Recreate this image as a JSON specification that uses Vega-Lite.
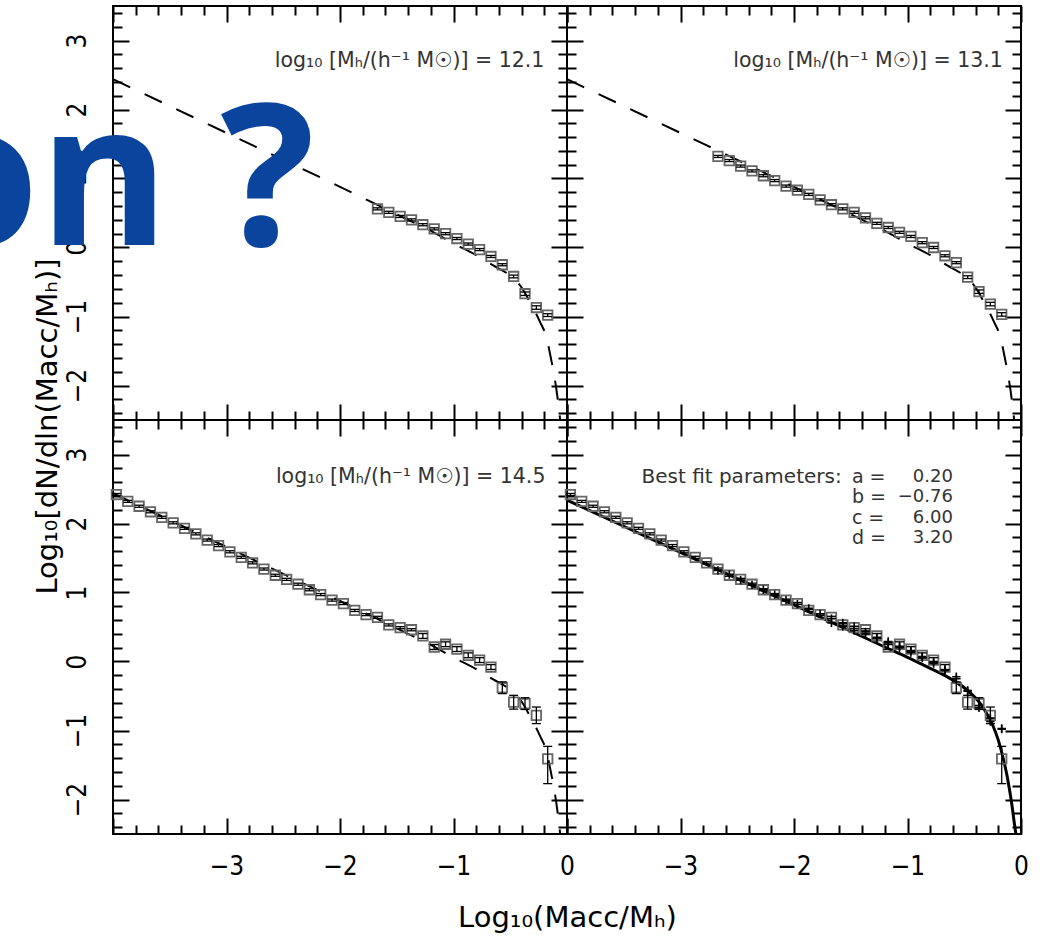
{
  "$schema": "https://vega.github.io/schema/vega-lite/v6.json",
  "background": "white",
  "padding": {"left": -85, "top": 4, "right": 0, "bottom": 0},
  "config": {
    "view": {"stroke": "black", "strokeWidth": 2},
    "axis": {"labelFont": "Liberation Sans Narrow, DejaVu Sans Condensed, sans-serif", "titleFont": "DejaVu Sans", "labelColor": "black", "titleColor": "black", "titleFontWeight": "normal", "grid": false, "domain": false},
    "concat": {"spacing": 0}
  },
  "datasets": {
    "dashed": [
      {"x": -4, "y": 2.44}, {"x": -3.5, "y": 2.05}, {"x": -3, "y": 1.66}, {"x": -2.5, "y": 1.27}, {"x": -2, "y": 0.88},
      {"x": -1.5, "y": 0.48}, {"x": -1.2, "y": 0.24}, {"x": -1, "y": 0.06}, {"x": -0.8, "y": -0.11}, {"x": -0.65, "y": -0.26},
      {"x": -0.5, "y": -0.41}, {"x": -0.4, "y": -0.58}, {"x": -0.33, "y": -0.78}, {"x": -0.24, "y": -1.07}, {"x": -0.18, "y": -1.31},
      {"x": -0.14, "y": -1.62}, {"x": -0.11, "y": -1.88}, {"x": -0.08, "y": -2.22}, {"x": -0.06, "y": -2.5}
    ],
    "solid": [
      {"x": -4, "y": 2.34}, {"x": -3.5, "y": 1.96}, {"x": -3, "y": 1.58}, {"x": -2.5, "y": 1.2}, {"x": -2, "y": 0.82},
      {"x": -1.5, "y": 0.44}, {"x": -1.2, "y": 0.21}, {"x": -1, "y": 0.06}, {"x": -0.8, "y": -0.1}, {"x": -0.7, "y": -0.18},
      {"x": -0.6, "y": -0.27}, {"x": -0.5, "y": -0.38}, {"x": -0.4, "y": -0.53}, {"x": -0.35, "y": -0.63}, {"x": -0.3, "y": -0.76},
      {"x": -0.25, "y": -0.92}, {"x": -0.2, "y": -1.14}, {"x": -0.15, "y": -1.45}, {"x": -0.12, "y": -1.68}, {"x": -0.1, "y": -1.87},
      {"x": -0.08, "y": -2.08}, {"x": -0.06, "y": -2.33}, {"x": -0.045, "y": -2.5}
    ],
    "d121": [
      {"x": -1.67, "y": 0.56, "lo": 0.545, "hi": 0.575}, {"x": -1.57, "y": 0.51, "lo": 0.495, "hi": 0.525},
      {"x": -1.47, "y": 0.45, "lo": 0.435, "hi": 0.465}, {"x": -1.37, "y": 0.4, "lo": 0.385, "hi": 0.415},
      {"x": -1.27, "y": 0.33, "lo": 0.315, "hi": 0.345}, {"x": -1.17, "y": 0.27, "lo": 0.255, "hi": 0.285},
      {"x": -1.07, "y": 0.2, "lo": 0.185, "hi": 0.215}, {"x": -0.97, "y": 0.13, "lo": 0.115, "hi": 0.145},
      {"x": -0.87, "y": 0.05, "lo": 0.035, "hi": 0.065}, {"x": -0.77, "y": -0.03, "lo": -0.045, "hi": -0.015},
      {"x": -0.67, "y": -0.13, "lo": -0.145, "hi": -0.115}, {"x": -0.57, "y": -0.25, "lo": -0.265, "hi": -0.235},
      {"x": -0.47, "y": -0.42, "lo": -0.44, "hi": -0.4}, {"x": -0.37, "y": -0.67, "lo": -0.695, "hi": -0.645},
      {"x": -0.27, "y": -0.87, "lo": -0.895, "hi": -0.845}, {"x": -0.17, "y": -0.98, "lo": -1.0, "hi": -0.96}
    ],
    "d131": [
      {"x": -2.67, "y": 1.32, "lo": 1.305, "hi": 1.335}, {"x": -2.57, "y": 1.26, "lo": 1.245, "hi": 1.275},
      {"x": -2.47, "y": 1.18, "lo": 1.165, "hi": 1.195}, {"x": -2.37, "y": 1.11, "lo": 1.095, "hi": 1.125},
      {"x": -2.27, "y": 1.04, "lo": 1.025, "hi": 1.055}, {"x": -2.17, "y": 0.97, "lo": 0.955, "hi": 0.985},
      {"x": -2.07, "y": 0.89, "lo": 0.875, "hi": 0.905}, {"x": -1.97, "y": 0.83, "lo": 0.815, "hi": 0.845},
      {"x": -1.87, "y": 0.77, "lo": 0.755, "hi": 0.785}, {"x": -1.77, "y": 0.69, "lo": 0.675, "hi": 0.705},
      {"x": -1.67, "y": 0.62, "lo": 0.605, "hi": 0.635}, {"x": -1.57, "y": 0.56, "lo": 0.545, "hi": 0.575},
      {"x": -1.47, "y": 0.51, "lo": 0.495, "hi": 0.525}, {"x": -1.37, "y": 0.43, "lo": 0.415, "hi": 0.445},
      {"x": -1.27, "y": 0.35, "lo": 0.335, "hi": 0.365}, {"x": -1.17, "y": 0.29, "lo": 0.275, "hi": 0.305},
      {"x": -1.07, "y": 0.22, "lo": 0.205, "hi": 0.235}, {"x": -0.97, "y": 0.16, "lo": 0.145, "hi": 0.175},
      {"x": -0.87, "y": 0.07, "lo": 0.055, "hi": 0.085}, {"x": -0.77, "y": 0.0, "lo": -0.015, "hi": 0.015},
      {"x": -0.67, "y": -0.12, "lo": -0.135, "hi": -0.105}, {"x": -0.57, "y": -0.22, "lo": -0.235, "hi": -0.205},
      {"x": -0.47, "y": -0.43, "lo": -0.45, "hi": -0.41}, {"x": -0.37, "y": -0.64, "lo": -0.665, "hi": -0.615},
      {"x": -0.27, "y": -0.82, "lo": -0.845, "hi": -0.795}, {"x": -0.17, "y": -0.97, "lo": -0.995, "hi": -0.945}
    ],
    "d145": [
      {"x": -3.97, "y": 2.42, "lo": 2.405, "hi": 2.435}, {"x": -3.87, "y": 2.32, "lo": 2.305, "hi": 2.335},
      {"x": -3.77, "y": 2.25, "lo": 2.235, "hi": 2.265}, {"x": -3.67, "y": 2.17, "lo": 2.155, "hi": 2.185},
      {"x": -3.57, "y": 2.09, "lo": 2.075, "hi": 2.105}, {"x": -3.47, "y": 2.01, "lo": 1.995, "hi": 2.025},
      {"x": -3.37, "y": 1.93, "lo": 1.915, "hi": 1.945}, {"x": -3.27, "y": 1.85, "lo": 1.835, "hi": 1.865},
      {"x": -3.17, "y": 1.76, "lo": 1.745, "hi": 1.775}, {"x": -3.07, "y": 1.68, "lo": 1.665, "hi": 1.695},
      {"x": -2.97, "y": 1.59, "lo": 1.575, "hi": 1.605}, {"x": -2.87, "y": 1.51, "lo": 1.495, "hi": 1.525},
      {"x": -2.77, "y": 1.43, "lo": 1.415, "hi": 1.445}, {"x": -2.67, "y": 1.34, "lo": 1.325, "hi": 1.355},
      {"x": -2.57, "y": 1.25, "lo": 1.235, "hi": 1.265}, {"x": -2.47, "y": 1.19, "lo": 1.175, "hi": 1.205},
      {"x": -2.37, "y": 1.12, "lo": 1.105, "hi": 1.135}, {"x": -2.27, "y": 1.04, "lo": 1.025, "hi": 1.055},
      {"x": -2.17, "y": 0.97, "lo": 0.955, "hi": 0.985}, {"x": -2.07, "y": 0.89, "lo": 0.875, "hi": 0.905},
      {"x": -1.97, "y": 0.84, "lo": 0.825, "hi": 0.855}, {"x": -1.87, "y": 0.74, "lo": 0.725, "hi": 0.755},
      {"x": -1.77, "y": 0.68, "lo": 0.665, "hi": 0.695}, {"x": -1.67, "y": 0.64, "lo": 0.625, "hi": 0.655},
      {"x": -1.57, "y": 0.53, "lo": 0.515, "hi": 0.545}, {"x": -1.47, "y": 0.49, "lo": 0.475, "hi": 0.505},
      {"x": -1.37, "y": 0.46, "lo": 0.445, "hi": 0.475}, {"x": -1.27, "y": 0.37, "lo": 0.335, "hi": 0.405},
      {"x": -1.17, "y": 0.21, "lo": 0.175, "hi": 0.245}, {"x": -1.07, "y": 0.25, "lo": 0.215, "hi": 0.285},
      {"x": -0.97, "y": 0.18, "lo": 0.145, "hi": 0.215}, {"x": -0.87, "y": 0.09, "lo": 0.055, "hi": 0.125},
      {"x": -0.77, "y": 0.02, "lo": -0.015, "hi": 0.055}, {"x": -0.67, "y": -0.08, "lo": -0.115, "hi": -0.045},
      {"x": -0.57, "y": -0.38, "lo": -0.465, "hi": -0.295}, {"x": -0.47, "y": -0.59, "lo": -0.69, "hi": -0.49},
      {"x": -0.37, "y": -0.61, "lo": -0.695, "hi": -0.525}, {"x": -0.27, "y": -0.78, "lo": -0.9, "hi": -0.66},
      {"x": -0.17, "y": -1.41, "lo": -1.77, "hi": -1.23}
    ]
  },
  "columns": 2,
  "spacing": 0,
  "bounds": "flush",
  "concat": [
    {
      "width": 454, "height": 414,
      "resolve": {"axis": {"x": "independent", "y": "independent"}},
      "layer": [
        {"data": {"name": "dashed"}, "mark": {"type": "line", "color": "black", "strokeWidth": 2, "strokeDash": [19, 16], "interpolate": "monotone"},
         "encoding": {
           "x": {"field": "x", "type": "quantitative", "scale": {"domain": [-4, 0], "nice": false, "zero": false}, "axis": null},
           "y": {"field": "y", "type": "quantitative", "scale": {"domain": [-2.5, 3.5], "nice": false, "zero": false},
                 "axis": {"orient": "left", "values": [-2, -1, 0, 1, 2, 3], "ticks": false, "labelAngle": -90, "labelAlign": "center", "labelBaseline": "bottom", "labelPadding": 23, "labelFontSize": 26, "labelFlush": false, "labelOverlap": false, "format": "d",
                          "title": "Log₁₀[dN/dln(Macc/Mₕ)]", "titleX": -57, "titleY": 420, "titleAngle": -90, "titleAlign": "center", "titleBaseline": "alphabetic", "titleFontSize": 29}}
         }},
        {"data": {"name": "d121"}, "mark": {"type": "point", "shape": "square", "size": 90, "filled": false, "color": "#666", "strokeWidth": 1.8, "opacity": 1},
         "encoding": {
           "x": {"field": "x", "type": "quantitative", "scale": {"domain": [-4, 0], "nice": false, "zero": false},
                 "axis": {"orient": "bottom", "values": [-4, -3.8, -3.6, -3.4, -3.2, -3, -2.8, -2.6, -2.4, -2.2, -2, -1.8, -1.6, -1.4, -1.2, -1, -0.8, -0.6, -0.4, -0.2, 0], "labels": false, "title": null, "tickColor": "black", "tickWidth": 2, "tickSize": {"condition": {"test": "abs(datum.value - round(datum.value)) < 0.001", "value": -16}, "value": -9}}},
           "y": {"field": "y", "type": "quantitative", "scale": {"domain": [-2.5, 3.5], "nice": false, "zero": false},
                 "axis": {"orient": "left", "values": [-2.4, -2.2, -2, -1.8, -1.6, -1.4, -1.2, -1, -0.8, -0.6, -0.4, -0.2, 0, 0.2, 0.4, 0.6, 0.8, 1, 1.2, 1.4, 1.6, 1.8, 2, 2.2, 2.4, 2.6, 2.8, 3, 3.2, 3.4], "labels": false, "title": null, "tickColor": "black", "tickWidth": 2, "tickSize": {"condition": {"test": "abs(datum.value - round(datum.value)) < 0.001", "value": -16}, "value": -9}}}
         }},
        {"data": {"name": "d121"}, "mark": {"type": "rule", "color": "black", "strokeWidth": 1.3},
         "encoding": {
           "x": {"field": "x", "type": "quantitative", "scale": {"domain": [-4, 0], "nice": false, "zero": false},
                 "axis": {"orient": "top", "values": [-4, -3.8, -3.6, -3.4, -3.2, -3, -2.8, -2.6, -2.4, -2.2, -2, -1.8, -1.6, -1.4, -1.2, -1, -0.8, -0.6, -0.4, -0.2, 0], "labels": false, "title": null, "tickColor": "black", "tickWidth": 2, "tickSize": {"condition": {"test": "abs(datum.value - round(datum.value)) < 0.001", "value": -16}, "value": -9}}},
           "y": {"field": "lo", "type": "quantitative", "scale": {"domain": [-2.5, 3.5], "nice": false, "zero": false},
                 "axis": {"orient": "right", "values": [-2.4, -2.2, -2, -1.8, -1.6, -1.4, -1.2, -1, -0.8, -0.6, -0.4, -0.2, 0, 0.2, 0.4, 0.6, 0.8, 1, 1.2, 1.4, 1.6, 1.8, 2, 2.2, 2.4, 2.6, 2.8, 3, 3.2, 3.4], "labels": false, "title": null, "tickColor": "black", "tickWidth": 2, "tickSize": {"condition": {"test": "abs(datum.value - round(datum.value)) < 0.001", "value": -16}, "value": -9}}},
           "y2": {"field": "hi"}
         }},
        {"data": {"name": "d121"}, "mark": {"type": "tick", "orient": "horizontal", "size": 9, "thickness": 1.3, "color": "black", "opacity": 1},
         "encoding": {
           "x": {"field": "x", "type": "quantitative", "scale": {"domain": [-4, 0], "nice": false, "zero": false}, "axis": null},
           "y": {"field": "lo", "type": "quantitative", "scale": {"domain": [-2.5, 3.5], "nice": false, "zero": false}, "axis": null}
         }},
        {"data": {"name": "d121"}, "mark": {"type": "tick", "orient": "horizontal", "size": 9, "thickness": 1.3, "color": "black", "opacity": 1},
         "encoding": {
           "x": {"field": "x", "type": "quantitative", "scale": {"domain": [-4, 0], "nice": false, "zero": false}, "axis": null},
           "y": {"field": "hi", "type": "quantitative", "scale": {"domain": [-2.5, 3.5], "nice": false, "zero": false}, "axis": null}
         }},
        {"data": {"values": [{"t": "log₁₀ [Mₕ/(h⁻¹ M☉)] = 12.1"}]}, "mark": {"type": "text", "align": "right", "baseline": "middle", "font": "DejaVu Sans", "fontSize": 20.5, "color": "#333"},
         "encoding": {
           "x": {"datum": -0.2, "type": "quantitative", "scale": {"domain": [-4, 0], "nice": false, "zero": false}, "axis": null},
           "y": {"datum": 2.7, "type": "quantitative", "scale": {"domain": [-2.5, 3.5], "nice": false, "zero": false}, "axis": null},
           "text": {"field": "t"}
         }},
        {"data": {"values": [{"t": "on ?"}]}, "mark": {"type": "text", "align": "right", "baseline": "alphabetic", "font": "Open Sans", "fontWeight": "bold", "fontSize": 198, "color": "#0b449c"},
         "encoding": {
           "x": {"datum": -2.22, "type": "quantitative", "scale": {"domain": [-4, 0], "nice": false, "zero": false}, "axis": null},
           "y": {"datum": 0.03, "type": "quantitative", "scale": {"domain": [-2.5, 3.5], "nice": false, "zero": false}, "axis": null},
           "text": {"field": "t"}
         }}
      ]
    },
    {
      "width": 454, "height": 414,
      "resolve": {"axis": {"x": "independent", "y": "independent"}},
      "layer": [
        {"data": {"name": "dashed"}, "mark": {"type": "line", "color": "black", "strokeWidth": 2, "strokeDash": [19, 16], "interpolate": "monotone"},
         "encoding": {
           "x": {"field": "x", "type": "quantitative", "scale": {"domain": [-4, 0], "nice": false, "zero": false}, "axis": null},
           "y": {"field": "y", "type": "quantitative", "scale": {"domain": [-2.5, 3.5], "nice": false, "zero": false}, "axis": null}
         }},
        {"data": {"name": "d131"}, "mark": {"type": "point", "shape": "square", "size": 90, "filled": false, "color": "#666", "strokeWidth": 1.8, "opacity": 1},
         "encoding": {
           "x": {"field": "x", "type": "quantitative", "scale": {"domain": [-4, 0], "nice": false, "zero": false},
                 "axis": {"orient": "bottom", "values": [-4, -3.8, -3.6, -3.4, -3.2, -3, -2.8, -2.6, -2.4, -2.2, -2, -1.8, -1.6, -1.4, -1.2, -1, -0.8, -0.6, -0.4, -0.2, 0], "labels": false, "title": null, "tickColor": "black", "tickWidth": 2, "tickSize": {"condition": {"test": "abs(datum.value - round(datum.value)) < 0.001", "value": -16}, "value": -9}}},
           "y": {"field": "y", "type": "quantitative", "scale": {"domain": [-2.5, 3.5], "nice": false, "zero": false},
                 "axis": {"orient": "left", "values": [-2.4, -2.2, -2, -1.8, -1.6, -1.4, -1.2, -1, -0.8, -0.6, -0.4, -0.2, 0, 0.2, 0.4, 0.6, 0.8, 1, 1.2, 1.4, 1.6, 1.8, 2, 2.2, 2.4, 2.6, 2.8, 3, 3.2, 3.4], "labels": false, "title": null, "tickColor": "black", "tickWidth": 2, "tickSize": {"condition": {"test": "abs(datum.value - round(datum.value)) < 0.001", "value": -16}, "value": -9}}}
         }},
        {"data": {"name": "d131"}, "mark": {"type": "rule", "color": "black", "strokeWidth": 1.3},
         "encoding": {
           "x": {"field": "x", "type": "quantitative", "scale": {"domain": [-4, 0], "nice": false, "zero": false},
                 "axis": {"orient": "top", "values": [-4, -3.8, -3.6, -3.4, -3.2, -3, -2.8, -2.6, -2.4, -2.2, -2, -1.8, -1.6, -1.4, -1.2, -1, -0.8, -0.6, -0.4, -0.2, 0], "labels": false, "title": null, "tickColor": "black", "tickWidth": 2, "tickSize": {"condition": {"test": "abs(datum.value - round(datum.value)) < 0.001", "value": -16}, "value": -9}}},
           "y": {"field": "lo", "type": "quantitative", "scale": {"domain": [-2.5, 3.5], "nice": false, "zero": false},
                 "axis": {"orient": "right", "values": [-2.4, -2.2, -2, -1.8, -1.6, -1.4, -1.2, -1, -0.8, -0.6, -0.4, -0.2, 0, 0.2, 0.4, 0.6, 0.8, 1, 1.2, 1.4, 1.6, 1.8, 2, 2.2, 2.4, 2.6, 2.8, 3, 3.2, 3.4], "labels": false, "title": null, "tickColor": "black", "tickWidth": 2, "tickSize": {"condition": {"test": "abs(datum.value - round(datum.value)) < 0.001", "value": -16}, "value": -9}}},
           "y2": {"field": "hi"}
         }},
        {"data": {"name": "d131"}, "mark": {"type": "tick", "orient": "horizontal", "size": 9, "thickness": 1.3, "color": "black", "opacity": 1},
         "encoding": {
           "x": {"field": "x", "type": "quantitative", "scale": {"domain": [-4, 0], "nice": false, "zero": false}, "axis": null},
           "y": {"field": "lo", "type": "quantitative", "scale": {"domain": [-2.5, 3.5], "nice": false, "zero": false}, "axis": null}
         }},
        {"data": {"name": "d131"}, "mark": {"type": "tick", "orient": "horizontal", "size": 9, "thickness": 1.3, "color": "black", "opacity": 1},
         "encoding": {
           "x": {"field": "x", "type": "quantitative", "scale": {"domain": [-4, 0], "nice": false, "zero": false}, "axis": null},
           "y": {"field": "hi", "type": "quantitative", "scale": {"domain": [-2.5, 3.5], "nice": false, "zero": false}, "axis": null}
         }},
        {"data": {"values": [{"t": "log₁₀ [Mₕ/(h⁻¹ M☉)] = 13.1"}]}, "mark": {"type": "text", "align": "right", "baseline": "middle", "font": "DejaVu Sans", "fontSize": 20.5, "color": "#333"},
         "encoding": {
           "x": {"datum": -0.16, "type": "quantitative", "scale": {"domain": [-4, 0], "nice": false, "zero": false}, "axis": null},
           "y": {"datum": 2.7, "type": "quantitative", "scale": {"domain": [-2.5, 3.5], "nice": false, "zero": false}, "axis": null},
           "text": {"field": "t"}
         }}
      ]
    },
    {
      "width": 454, "height": 414,
      "resolve": {"axis": {"x": "independent", "y": "independent"}},
      "layer": [
        {"data": {"name": "dashed"}, "mark": {"type": "line", "color": "black", "strokeWidth": 2, "strokeDash": [19, 16], "interpolate": "monotone"},
         "encoding": {
           "x": {"field": "x", "type": "quantitative", "scale": {"domain": [-4, 0], "nice": false, "zero": false},
                 "axis": {"orient": "bottom", "values": [-3, -2, -1, 0], "ticks": false, "labelFlush": false, "labelOverlap": false, "labelPadding": 19, "labelFontSize": 26, "format": "d",
                          "title": "Log₁₀(Macc/Mₕ)", "titleX": 454, "titleY": 92, "titleAlign": "center", "titleBaseline": "alphabetic", "titleFontSize": 29}},
           "y": {"field": "y", "type": "quantitative", "scale": {"domain": [-2.5, 3.5], "nice": false, "zero": false},
                 "axis": {"orient": "left", "values": [-2, -1, 0, 1, 2, 3], "ticks": false, "labelAngle": -90, "labelAlign": "center", "labelBaseline": "bottom", "labelPadding": 23, "labelFontSize": 26, "labelFlush": false, "labelOverlap": false, "format": "d", "title": null}}
         }},
        {"data": {"name": "d145"}, "mark": {"type": "point", "shape": "square", "size": 90, "filled": false, "color": "#666", "strokeWidth": 1.8, "opacity": 1},
         "encoding": {
           "x": {"field": "x", "type": "quantitative", "scale": {"domain": [-4, 0], "nice": false, "zero": false},
                 "axis": {"orient": "bottom", "values": [-4, -3.8, -3.6, -3.4, -3.2, -3, -2.8, -2.6, -2.4, -2.2, -2, -1.8, -1.6, -1.4, -1.2, -1, -0.8, -0.6, -0.4, -0.2, 0], "labels": false, "title": null, "tickColor": "black", "tickWidth": 2, "tickSize": {"condition": {"test": "abs(datum.value - round(datum.value)) < 0.001", "value": -16}, "value": -9}}},
           "y": {"field": "y", "type": "quantitative", "scale": {"domain": [-2.5, 3.5], "nice": false, "zero": false},
                 "axis": {"orient": "left", "values": [-2.4, -2.2, -2, -1.8, -1.6, -1.4, -1.2, -1, -0.8, -0.6, -0.4, -0.2, 0, 0.2, 0.4, 0.6, 0.8, 1, 1.2, 1.4, 1.6, 1.8, 2, 2.2, 2.4, 2.6, 2.8, 3, 3.2, 3.4], "labels": false, "title": null, "tickColor": "black", "tickWidth": 2, "tickSize": {"condition": {"test": "abs(datum.value - round(datum.value)) < 0.001", "value": -16}, "value": -9}}}
         }},
        {"data": {"name": "d145"}, "mark": {"type": "rule", "color": "black", "strokeWidth": 1.3},
         "encoding": {
           "x": {"field": "x", "type": "quantitative", "scale": {"domain": [-4, 0], "nice": false, "zero": false},
                 "axis": {"orient": "top", "values": [-4, -3.8, -3.6, -3.4, -3.2, -3, -2.8, -2.6, -2.4, -2.2, -2, -1.8, -1.6, -1.4, -1.2, -1, -0.8, -0.6, -0.4, -0.2, 0], "labels": false, "title": null, "tickColor": "black", "tickWidth": 2, "tickSize": {"condition": {"test": "abs(datum.value - round(datum.value)) < 0.001", "value": -16}, "value": -9}}},
           "y": {"field": "lo", "type": "quantitative", "scale": {"domain": [-2.5, 3.5], "nice": false, "zero": false},
                 "axis": {"orient": "right", "values": [-2.4, -2.2, -2, -1.8, -1.6, -1.4, -1.2, -1, -0.8, -0.6, -0.4, -0.2, 0, 0.2, 0.4, 0.6, 0.8, 1, 1.2, 1.4, 1.6, 1.8, 2, 2.2, 2.4, 2.6, 2.8, 3, 3.2, 3.4], "labels": false, "title": null, "tickColor": "black", "tickWidth": 2, "tickSize": {"condition": {"test": "abs(datum.value - round(datum.value)) < 0.001", "value": -16}, "value": -9}}},
           "y2": {"field": "hi"}
         }},
        {"data": {"name": "d145"}, "mark": {"type": "tick", "orient": "horizontal", "size": 9, "thickness": 1.3, "color": "black", "opacity": 1},
         "encoding": {
           "x": {"field": "x", "type": "quantitative", "scale": {"domain": [-4, 0], "nice": false, "zero": false}, "axis": null},
           "y": {"field": "lo", "type": "quantitative", "scale": {"domain": [-2.5, 3.5], "nice": false, "zero": false}, "axis": null}
         }},
        {"data": {"name": "d145"}, "mark": {"type": "tick", "orient": "horizontal", "size": 9, "thickness": 1.3, "color": "black", "opacity": 1},
         "encoding": {
           "x": {"field": "x", "type": "quantitative", "scale": {"domain": [-4, 0], "nice": false, "zero": false}, "axis": null},
           "y": {"field": "hi", "type": "quantitative", "scale": {"domain": [-2.5, 3.5], "nice": false, "zero": false}, "axis": null}
         }},
        {"data": {"values": [{"t": "log₁₀ [Mₕ/(h⁻¹ M☉)] = 14.5"}]}, "mark": {"type": "text", "align": "right", "baseline": "middle", "font": "DejaVu Sans", "fontSize": 20.5, "color": "#333"},
         "encoding": {
           "x": {"datum": -0.19, "type": "quantitative", "scale": {"domain": [-4, 0], "nice": false, "zero": false}, "axis": null},
           "y": {"datum": 2.67, "type": "quantitative", "scale": {"domain": [-2.5, 3.5], "nice": false, "zero": false}, "axis": null},
           "text": {"field": "t"}
         }}
      ]
    },
    {
      "width": 454, "height": 414,
      "resolve": {"axis": {"x": "independent", "y": "independent"}},
      "layer": [
        {"data": {"name": "solid"}, "mark": {"type": "line", "color": "black", "strokeWidth": 3, "interpolate": "monotone"},
         "encoding": {
           "x": {"field": "x", "type": "quantitative", "scale": {"domain": [-4, 0], "nice": false, "zero": false},
                 "axis": {"orient": "bottom", "values": [-3, -2, -1, 0], "ticks": false, "labelFlush": false, "labelOverlap": false, "labelPadding": 19, "labelFontSize": 26, "format": "d", "title": null}},
           "y": {"field": "y", "type": "quantitative", "scale": {"domain": [-2.5, 3.5], "nice": false, "zero": false}, "axis": null}
         }},
        {"data": {"name": "d145"}, "mark": {"type": "point", "shape": "square", "size": 90, "filled": false, "color": "#666", "strokeWidth": 1.8, "opacity": 1},
         "encoding": {
           "x": {"field": "x", "type": "quantitative", "scale": {"domain": [-4, 0], "nice": false, "zero": false},
                 "axis": {"orient": "bottom", "values": [-4, -3.8, -3.6, -3.4, -3.2, -3, -2.8, -2.6, -2.4, -2.2, -2, -1.8, -1.6, -1.4, -1.2, -1, -0.8, -0.6, -0.4, -0.2, 0], "labels": false, "title": null, "tickColor": "black", "tickWidth": 2, "tickSize": {"condition": {"test": "abs(datum.value - round(datum.value)) < 0.001", "value": -16}, "value": -9}}},
           "y": {"field": "y", "type": "quantitative", "scale": {"domain": [-2.5, 3.5], "nice": false, "zero": false},
                 "axis": {"orient": "left", "values": [-2.4, -2.2, -2, -1.8, -1.6, -1.4, -1.2, -1, -0.8, -0.6, -0.4, -0.2, 0, 0.2, 0.4, 0.6, 0.8, 1, 1.2, 1.4, 1.6, 1.8, 2, 2.2, 2.4, 2.6, 2.8, 3, 3.2, 3.4], "labels": false, "title": null, "tickColor": "black", "tickWidth": 2, "tickSize": {"condition": {"test": "abs(datum.value - round(datum.value)) < 0.001", "value": -16}, "value": -9}}}
         }},
        {"data": {"name": "d145"}, "mark": {"type": "rule", "color": "black", "strokeWidth": 1.3},
         "encoding": {
           "x": {"field": "x", "type": "quantitative", "scale": {"domain": [-4, 0], "nice": false, "zero": false},
                 "axis": {"orient": "top", "values": [-4, -3.8, -3.6, -3.4, -3.2, -3, -2.8, -2.6, -2.4, -2.2, -2, -1.8, -1.6, -1.4, -1.2, -1, -0.8, -0.6, -0.4, -0.2, 0], "labels": false, "title": null, "tickColor": "black", "tickWidth": 2, "tickSize": {"condition": {"test": "abs(datum.value - round(datum.value)) < 0.001", "value": -16}, "value": -9}}},
           "y": {"field": "lo", "type": "quantitative", "scale": {"domain": [-2.5, 3.5], "nice": false, "zero": false},
                 "axis": {"orient": "right", "values": [-2.4, -2.2, -2, -1.8, -1.6, -1.4, -1.2, -1, -0.8, -0.6, -0.4, -0.2, 0, 0.2, 0.4, 0.6, 0.8, 1, 1.2, 1.4, 1.6, 1.8, 2, 2.2, 2.4, 2.6, 2.8, 3, 3.2, 3.4], "labels": false, "title": null, "tickColor": "black", "tickWidth": 2, "tickSize": {"condition": {"test": "abs(datum.value - round(datum.value)) < 0.001", "value": -16}, "value": -9}}},
           "y2": {"field": "hi"}
         }},
        {"data": {"name": "d145"}, "mark": {"type": "tick", "orient": "horizontal", "size": 9, "thickness": 1.3, "color": "black", "opacity": 1},
         "encoding": {
           "x": {"field": "x", "type": "quantitative", "scale": {"domain": [-4, 0], "nice": false, "zero": false}, "axis": null},
           "y": {"field": "lo", "type": "quantitative", "scale": {"domain": [-2.5, 3.5], "nice": false, "zero": false}, "axis": null}
         }},
        {"data": {"name": "d145"}, "mark": {"type": "tick", "orient": "horizontal", "size": 9, "thickness": 1.3, "color": "black", "opacity": 1},
         "encoding": {
           "x": {"field": "x", "type": "quantitative", "scale": {"domain": [-4, 0], "nice": false, "zero": false}, "axis": null},
           "y": {"field": "hi", "type": "quantitative", "scale": {"domain": [-2.5, 3.5], "nice": false, "zero": false}, "axis": null}
         }},
        {"data": {"name": "d121"}, "mark": {"type": "point", "shape": "M-1,0L1,0M0,-1L0,1", "size": 70, "filled": false, "color": "black", "strokeWidth": 1.6, "opacity": 1},
         "encoding": {
           "x": {"field": "x", "type": "quantitative", "scale": {"domain": [-4, 0], "nice": false, "zero": false}, "axis": null},
           "y": {"field": "y", "type": "quantitative", "scale": {"domain": [-2.5, 3.5], "nice": false, "zero": false}, "axis": null}
         }},
        {"data": {"name": "d131"}, "mark": {"type": "point", "shape": "M-1,0L1,0M0,-1L0,1", "size": 70, "filled": false, "color": "black", "strokeWidth": 1.6, "opacity": 1},
         "encoding": {
           "x": {"field": "x", "type": "quantitative", "scale": {"domain": [-4, 0], "nice": false, "zero": false}, "axis": null},
           "y": {"field": "y", "type": "quantitative", "scale": {"domain": [-2.5, 3.5], "nice": false, "zero": false}, "axis": null}
         }},
        {"data": {"values": [{"t": "Best fit parameters:"}]}, "mark": {"type": "text", "align": "right", "baseline": "middle", "font": "DejaVu Sans", "fontSize": 20, "color": "#333"},
         "encoding": {
           "x": {"datum": -1.58, "type": "quantitative", "scale": {"domain": [-4, 0], "nice": false, "zero": false}, "axis": null},
           "y": {"datum": 2.67, "type": "quantitative", "scale": {"domain": [-2.5, 3.5], "nice": false, "zero": false}, "axis": null},
           "text": {"field": "t"}
         }},
        {"data": {"values": [{"t": "a =\nb =\nc =\nd ="}]}, "mark": {"type": "text", "align": "left", "baseline": "top", "lineBreak": "\n", "lineHeight": 20.5, "font": "DejaVu Sans", "fontSize": 19, "color": "#333"},
         "encoding": {
           "x": {"datum": -1.49, "type": "quantitative", "scale": {"domain": [-4, 0], "nice": false, "zero": false}, "axis": null},
           "y": {"datum": 2.81, "type": "quantitative", "scale": {"domain": [-2.5, 3.5], "nice": false, "zero": false}, "axis": null},
           "text": {"field": "t"}
         }},
        {"data": {"values": [{"t": "0.20\n−0.76\n6.00\n3.20"}]}, "mark": {"type": "text", "align": "right", "baseline": "top", "lineBreak": "\n", "lineHeight": 20.5, "font": "DejaVu Sans", "fontSize": 18, "color": "#333"},
         "encoding": {
           "x": {"datum": -0.6, "type": "quantitative", "scale": {"domain": [-4, 0], "nice": false, "zero": false}, "axis": null},
           "y": {"datum": 2.81, "type": "quantitative", "scale": {"domain": [-2.5, 3.5], "nice": false, "zero": false}, "axis": null},
           "text": {"field": "t"}
         }}
      ]
    }
  ]
}
